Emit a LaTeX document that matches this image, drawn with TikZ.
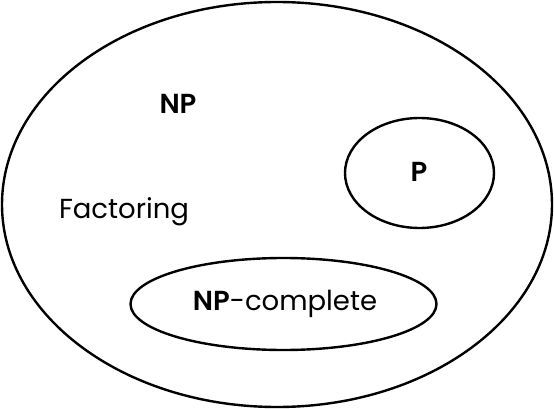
\documentclass[tikz,border=0pt]{standalone}
\usepackage{fontspec}
\setmainfont{Poppins}[BoldFont={Poppins SemiBold}]
\begin{document}
\begin{tikzpicture}[x=1pt,y=-1pt,
  setline/.style={line width=2.4pt,draw=black},
  lbl/.style={inner sep=0pt,font=\fontsize{27.5}{32}\selectfont},
  blbl/.style={inner sep=0pt,font=\fontsize{27.5}{32}\selectfont\bfseries}]
\useasboundingbox (0,0) rectangle (554,409);
\draw[setline] (277,204.5) ellipse [x radius=275, y radius=202.5];
\draw[setline] (419.5,173) ellipse [x radius=74.5, y radius=55];
\draw[setline] (283.5,304) ellipse [x radius=153, y radius=46];
\node[blbl] (np) at (178,104) {NP};
\node[blbl] (p) at (419,172) {P};
\node[lbl] (fact) at (124,212) {Factoring};
\node[lbl] (npc) at (285,304) {\textbf{NP}-complete};
\end{tikzpicture}
\end{document}
